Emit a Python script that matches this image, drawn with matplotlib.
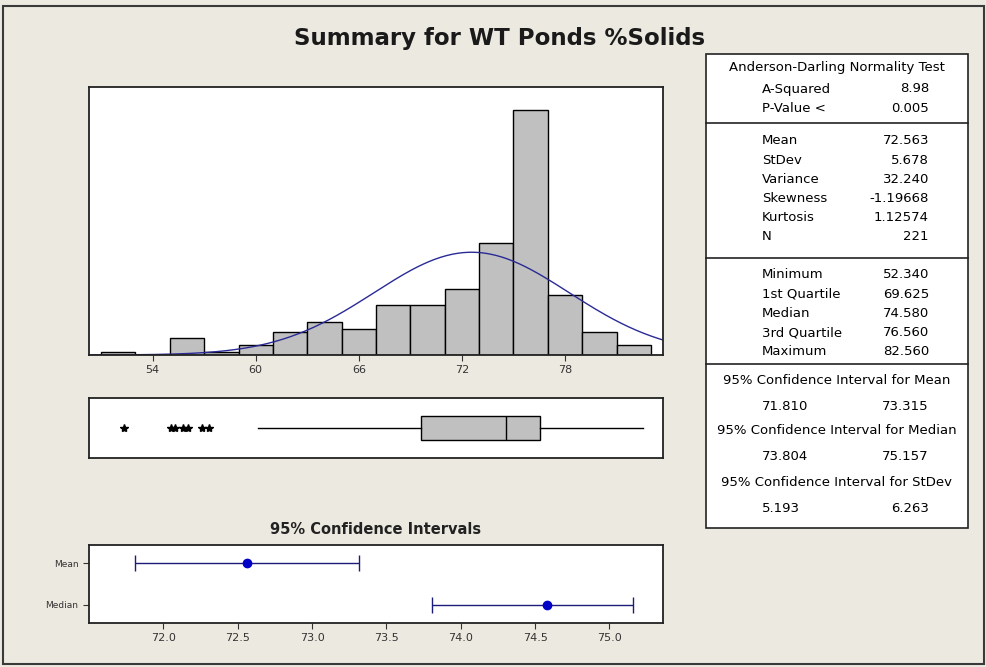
import numpy as np
import matplotlib
matplotlib.use("Agg")
import matplotlib.pyplot as plt
from matplotlib.patches import Rectangle
from matplotlib.lines import Line2D

# histogram: bins of width 2, centred on the even values
bin_centers = [52, 54, 56, 58, 60, 62, 64, 66, 68, 70, 72, 74, 76, 78, 80, 82]
counts = [1, 0, 5, 1, 3, 7, 10, 8, 15, 15, 20, 34, 74, 18, 7, 3]
bin_width = 2
hist_ticks = [54, 60, 66, 72, 78]

# summary statistics
mean_val = 72.563
stdev_val = 5.678
n_obs = 221
q1_val = 69.625
median_val = 74.580
q3_val = 76.560
whisker_lo = 60.12
max_val = 82.560
outliers = [52.34, 55.05, 55.3, 55.75, 56.05, 56.9, 57.26]

# 95% confidence intervals
ci_labels = ["Mean", "Median"]
ci_center = [72.563, 74.580]
ci_low = [71.810, 73.804]
ci_high = [73.315, 75.157]
ci_ticks = [72.0, 72.5, 73.0, 73.5, 74.0, 74.5, 75.0]

# table on the right
ad_rows = [("A-Squared", "8.98"), ("P-Value <", "0.005")]
moment_rows = [("Mean", "72.563"), ("StDev", "5.678"), ("Variance", "32.240"),
               ("Skewness", "-1.19668"), ("Kurtosis", "1.12574"), ("N", "221")]
quant_rows = [("Minimum", "52.340"), ("1st Quartile", "69.625"), ("Median", "74.580"),
              ("3rd Quartile", "76.560"), ("Maximum", "82.560")]
ci_rows = [("95% Confidence Interval for Mean", "71.810", "73.315"),
           ("95% Confidence Interval for Median", "73.804", "75.157"),
           ("95% Confidence Interval for StDev", "5.193", "6.263")]

W, H = 987, 667
BG = "#ECE9E0"
BLUE_LINE = "#2A2A96"

plt.rcParams["font.family"] = ["DejaVu Sans"]


def fx(px):
    return px / W


def fy(py):
    return 1 - py / H


def axes_px(fig, x0, y0, x1, y1):
    return fig.add_axes([fx(x0), fy(y1), fx(x1) - fx(x0), fy(y0) - fy(y1)])


fig = plt.figure(figsize=(W / 100, H / 100), dpi=100, facecolor=BG)

# window border
fig.patches.append(Rectangle((fx(3), fy(664)), fx(981), fy(6) - fy(664), transform=fig.transFigure,
                             fill=False, edgecolor="#3A3A3A", lw=1.5))

fig.text(fx(500), fy(39), "Summary for WT Ponds %Solids", ha="center", va="center",
         fontsize=16.5, fontweight="bold", color="#1A1A1A")

# ---- histogram ----
xlim = (50.3, 83.7)
ax_h = axes_px(fig, 89, 87, 663, 355)
ax_h.bar(bin_centers, counts, width=bin_width, color="#C0C0C0", edgecolor="black", lw=1)
xs = np.linspace(xlim[0], xlim[1], 300)
dens = n_obs * bin_width / (stdev_val * np.sqrt(2 * np.pi)) * np.exp(-0.5 * ((xs - mean_val) / stdev_val) ** 2)
ax_h.plot(xs, dens, color=BLUE_LINE, lw=1)
ax_h.set_xlim(xlim)
ax_h.set_ylim(0, 81)
ax_h.set_xticks(hist_ticks)
ax_h.set_yticks([])
ax_h.tick_params(axis="x", labelsize=8, length=4, colors="#333333")

# ---- boxplot ----
ax_b = axes_px(fig, 89, 398, 663, 458)
stats = [{"whislo": whisker_lo, "q1": q1_val, "med": median_val, "q3": q3_val,
          "whishi": max_val, "fliers": outliers}]
ax_b.bxp(stats, positions=[0.5], widths=0.4, vert=False, showcaps=False, patch_artist=True,
         boxprops=dict(facecolor="#C0C0C0", edgecolor="black", lw=1),
         medianprops=dict(color="black", lw=1),
         whiskerprops=dict(color="black", lw=1),
         flierprops=dict(marker="*", markerfacecolor="black", markeredgecolor="black", markersize=6))
ax_b.set_xlim(xlim)
ax_b.set_ylim(0, 1)
ax_b.set_xticks([])
ax_b.set_yticks([])

# ---- confidence intervals ----
ax_c = axes_px(fig, 89, 545, 663, 623)
ypos = [2, 1]
err = [np.array(ci_center) - np.array(ci_low), np.array(ci_high) - np.array(ci_center)]
ax_c.errorbar(ci_center, ypos, xerr=err, fmt="none", ecolor="#1C1C7A", elinewidth=1,
              capsize=6, capthick=1)
ax_c.plot(ci_center, ypos, "o", color="#0000C8", markersize=6)
ax_c.set_ylim(0.55, 2.45)
ax_c.set_xlim(71.50, 75.36)
ax_c.set_yticks(ypos)
ax_c.set_yticklabels(ci_labels)
ax_c.set_xticks(ci_ticks)
ax_c.tick_params(axis="x", labelsize=8, length=4, colors="#333333")
ax_c.tick_params(axis="y", labelsize=6.5, length=4, colors="#333333")
ax_c.set_title("95% Confidence Intervals", fontsize=10.5, fontweight="bold", color="#222222", pad=8)

for ax in (ax_h, ax_b, ax_c):
    for sp in ax.spines.values():
        sp.set_linewidth(1.3)
        sp.set_color("#222222")

# ---- statistics table ----
tx0, tx1, ty0, ty1 = 706, 968, 54, 528
fig.patches.append(Rectangle((fx(tx0), fy(ty1)), fx(tx1) - fx(tx0), fy(ty0) - fy(ty1),
                             transform=fig.transFigure, facecolor="white", edgecolor="#222222", lw=1.2))


def hline(py):
    fig.add_artist(Line2D([fx(tx0), fx(tx1)], [fy(py), fy(py)], transform=fig.transFigure,
                          color="#222222", lw=1.2))


tfs = 9.5
lab_x, val_x, mid_x = 762, 929, (tx0 + tx1) / 2
fig.text(fx(mid_x), fy(68), "Anderson-Darling Normality Test", ha="center", va="center", fontsize=tfs)
for i, (lab, val) in enumerate(ad_rows):
    fig.text(fx(lab_x), fy(89 + i * 20), lab, ha="left", va="center", fontsize=tfs)
    fig.text(fx(val_x), fy(89 + i * 20), val, ha="right", va="center", fontsize=tfs)
hline(123)
for i, (lab, val) in enumerate(moment_rows):
    fig.text(fx(lab_x), fy(141 + i * 19.2), lab, ha="left", va="center", fontsize=tfs)
    fig.text(fx(val_x), fy(141 + i * 19.2), val, ha="right", va="center", fontsize=tfs)
hline(258)
for i, (lab, val) in enumerate(quant_rows):
    fig.text(fx(lab_x), fy(275 + i * 19.2), lab, ha="left", va="center", fontsize=tfs)
    fig.text(fx(val_x), fy(275 + i * 19.2), val, ha="right", va="center", fontsize=tfs)
hline(364)
for i, (hdr, lo, hi) in enumerate(ci_rows):
    yh = 380 + i * 51
    fig.text(fx(mid_x), fy(yh), hdr, ha="center", va="center", fontsize=tfs)
    fig.text(fx(lab_x), fy(yh + 26), lo, ha="left", va="center", fontsize=tfs)
    fig.text(fx(val_x), fy(yh + 26), hi, ha="right", va="center", fontsize=tfs)

fig.savefig("out.png", dpi=100, facecolor=BG)
